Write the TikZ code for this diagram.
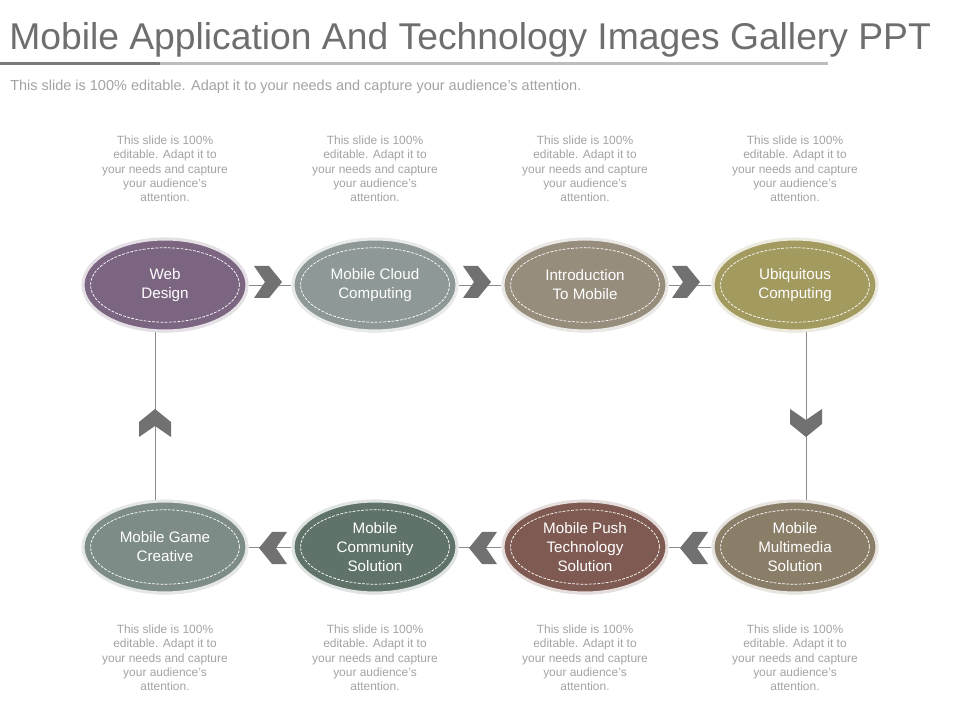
\documentclass[tikz,border=0pt]{standalone}
\usepackage{fontspec}
\setmainfont{Liberation Sans}
\usetikzlibrary{shapes.geometric,shadows,backgrounds,calc}
\definecolor{titlegray}{HTML}{6E6E6E}
\definecolor{notegray}{HTML}{A3A3A3}
\definecolor{bardark}{HTML}{7A7A7A}
\definecolor{barlight}{HTML}{BDBDBD}
\definecolor{linegray}{HTML}{8A8A8A}
\definecolor{chevgray}{HTML}{717171}
\definecolor{webc}{HTML}{7B6580}
\definecolor{cloudc}{HTML}{8E9896}
\definecolor{introc}{HTML}{968D7D}
\definecolor{ubiqc}{HTML}{A39A60}
\definecolor{gamec}{HTML}{7E8C88}
\definecolor{commc}{HTML}{5F7369}
\definecolor{pushc}{HTML}{7F5A52}
\definecolor{multic}{HTML}{8B7E69}
\tikzset{
  oval/.style={ellipse, fill=#1, draw=#1!20!white, line width=2.2pt,
    minimum width=4.1cm, minimum height=2.3cm, inner sep=0pt,
    text=white, align=center, font=\fontsize{10.8}{13.6}\selectfont,
    execute at begin node={\rule{0pt}{12pt}},
    drop shadow={opacity=0.35, shadow xshift=0.5pt, shadow yshift=-1pt}},
  note/.style={align=center, text=notegray, font=\fontsize{8.5}{10.2}\selectfont, inner sep=0pt},
  conn/.style={draw=linegray, line width=0.6pt},
  chevr/.pic={\fill[chevgray] (-14,-16) -- (1,-16) -- (14,0) -- (1,16) -- (-14,16) -- (-3,0) -- cycle;}
}
\newcommand{\inring}[1]{\draw[white, dashed, line width=0.5pt, dash pattern=on 2pt off 1pt] (#1.center) ellipse [x radius=1.86cm, y radius=0.93cm];}
\begin{document}
\begin{tikzpicture}[x=0.025cm,y=-0.025cm]
\useasboundingbox (0,0) rectangle (960,720);
% title
\node[anchor=west, inner sep=0pt, text=titlegray, font=\fontsize{26.5}{30}\selectfont] (title) at (9,40) {Mobile Application And Technology Images Gallery PPT};
\fill[bardark] (0,62) rectangle (160,65);
\fill[barlight] (160,62) rectangle (828,65);
\node[anchor=west, inner sep=0pt, text=notegray, font=\fontsize{10.3}{12}\selectfont] (sub) at (10,87) {This slide is 100\% editable. Adapt it to your needs and capture your audience's attention.};
% ovals
\node[oval=webc] (e1) at (165,285) {Web\\Design};
\node[oval=cloudc] (e2) at (375,285) {Mobile Cloud\\Computing};
\node[oval=introc] (e3) at (585,285) {Introduction\\To Mobile};
\node[oval=ubiqc] (e4) at (795,285) {Ubiquitous\\Computing};
\node[oval=multic] (e5) at (795,547) {Mobile\\Multimedia\\Solution};
\node[oval=pushc] (e6) at (585,547) {Mobile Push\\Technology\\Solution};
\node[oval=commc] (e7) at (375,547) {Mobile\\Community\\Solution};
\node[oval=gamec] (e8) at (165,547) {Mobile Game\\Creative};
\foreach \n in {e1,e2,e3,e4,e5,e6,e7,e8} {\inring{\n}}
% connectors
\begin{scope}[on background layer]
\draw[conn] (e1) -- (e2);
\draw[conn] (e2) -- (e3);
\draw[conn] (e3) -- (e4);
\draw[conn] ($(e4.center)+(11,0)$) -- ($(e5.center)+(11,0)$);
\draw[conn] (e5) -- (e6);
\draw[conn] (e6) -- (e7);
\draw[conn] (e7) -- (e8);
\draw[conn] ($(e8.center)+(-10,0)$) -- ($(e1.center)+(-10,0)$);
\end{scope}
% chevrons
\pic at (268,282) {chevr};
\pic at (477,282) {chevr};
\pic at (686,282) {chevr};
\pic[rotate=-90] at (806,423) {chevr};
\pic[rotate=180] at (694,548) {chevr};
\pic[rotate=180] at (483,548) {chevr};
\pic[rotate=180] at (273,548) {chevr};
\pic[rotate=90] at (155,423) {chevr};
% notes
\foreach \x/\nm in {165/t1,375/t2,585/t3,795/t4} {
  \node[note] (\nm) at (\x,169) {This slide is 100\%\\editable. Adapt it to\\your needs and capture\\your audience's\\attention.};
}
\foreach \x/\nm in {165/b1,375/b2,585/b3,795/b4} {
  \node[note] (\nm) at (\x,658) {This slide is 100\%\\editable. Adapt it to\\your needs and capture\\your audience's\\attention.};
}
\end{tikzpicture}
\end{document}
